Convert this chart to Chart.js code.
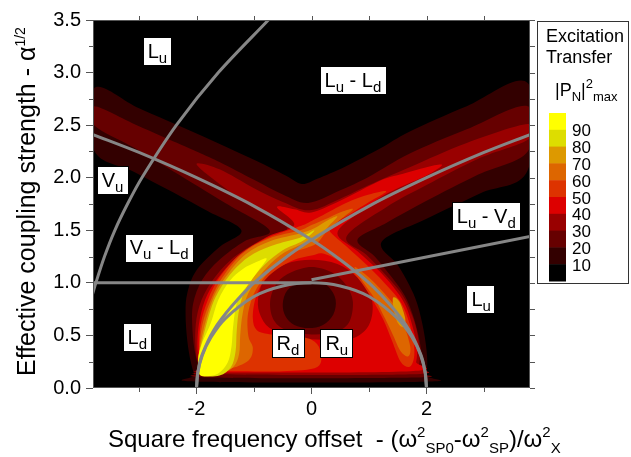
<!DOCTYPE html>
<html lang="en">
<head>
<meta charset="UTF-8" />
<title>Excitation transfer map</title>
<script src="https://cdn.jsdelivr.net/npm/chart.js"></script>
<style>
  html, body { margin: 0; padding: 0; background: #fff; }
</style>
</head>
<body>
<canvas id="map" width="631" height="457"></canvas>
<script>
const family = "'Liberation Sans', Arial, sans-serif";

// axes
const xTicks = [-2, 0, 2];
const xTickLabels = ['-2', '0', '2'];
const xMinor = [-3, -1, 1, 3];
const yTicks = [0, 0.5, 1, 1.5, 2, 2.5, 3, 3.5];
const yTickLabels = ['0.0', '0.5', '1.0', '1.5', '2.0', '2.5', '3.0', '3.5'];
const yMinor = [0.25, 0.75, 1.25, 1.75, 2.25, 2.75, 3.25];

// colour scale (|P_N|^2 max, %)
const legendLabels = ['90', '80', '70', '60', '50', '40', '30', '20', '10'];
const bandColors = ['#000000', '#330000', '#660000', '#990000', '#dd0000', '#dd3300', '#dd6600', '#dd9900', '#dddd00', '#ffff00'];

// contour outlines: cNN = region above NN %, hNN = hole below NN %
const c10 = [[-3.78,2.85],[-3.0,2.66],[-2.0,2.42],[-1.0,2.17],[-0.45,2.02],[-0.17,1.94],[0.1,1.99],[0.6,2.11],[1.2,2.28],[1.71,2.44],[2.7,2.68],[3.76,2.9],
  [3.76,2.07],[2.93,1.85],[2.0,1.61],[1.22,1.39],[1.5,1.17],[1.7,0.98],[1.84,0.8],[1.95,0.55],[2.01,0.3],[2.0,0.12],[1.95,0.06],
  [-1.95,0.06],[-2.03,0.12],[-2.1,0.25],[-2.16,0.45],[-2.19,0.7],[-2.16,0.9],[-2.0,1.12],[-1.6,1.34],[-1.22,1.5],
  [-1.8,1.68],[-2.4,1.86],[-3.1,2.06],[-3.78,2.26]];
const c20 = [[-3.78,2.68],[-3.0,2.49],[-2.0,2.25],[-1.6,2.15],[-1.0,1.98],[-0.5,1.84],[-0.06,1.76],[0.5,1.88],[1.0,2.01],[1.71,2.23],[2.7,2.46],[3.76,2.68],
  [3.76,2.25],[2.9,2.03],[2.0,1.78],[1.3,1.57],[0.8,1.41],[1.1,1.25],[1.4,1.05],[1.62,0.88],[1.76,0.7],[1.86,0.5],[1.92,0.3],[1.9,0.15],[1.8,0.1],
  [-1.8,0.1],[-1.93,0.16],[-2.02,0.32],[-2.07,0.55],[-2.06,0.8],[-1.9,1.03],[-1.6,1.22],[-1.15,1.4],[-0.73,1.5],
  [-1.5,1.76],[-2.4,2.06],[-3.1,2.29],[-3.78,2.5]];
const h20 = [[-0.5,0.8],[-0.42,0.93],[-0.2,1.0],[0.1,1.02],[0.3,0.96],[0.42,0.84],[0.38,0.7],[0.2,0.6],[-0.05,0.57],[-0.3,0.6],[-0.45,0.68]];
const c30 = [[-0.42,1.52],[-0.9,1.4],[-1.4,1.22],[-1.75,1.0],[-1.95,0.78],[-2.02,0.55],[-2.0,0.3],[-1.9,0.17],[-1.78,0.13],
  [1.75,0.13],[1.86,0.2],[1.88,0.35],[1.83,0.55],[1.72,0.73],[1.56,0.9],[1.3,1.07],[0.95,1.27],[0.61,1.44],
  [1.3,1.72],[2.0,1.93],[2.9,2.18],[3.76,2.36],[3.76,2.51],[2.7,2.33],[1.71,2.1],[1.0,1.93],[0.5,1.8],[-0.03,1.69],
  [-0.5,1.77],[-1.0,1.9],[-1.6,2.08],[-2.0,2.13],[-1.6,1.94],[-1.0,1.71]];
const h30 = [[-0.72,0.82],[-0.6,1.0],[-0.35,1.1],[0,1.15],[0.35,1.1],[0.6,0.98],[0.72,0.82],[0.65,0.62],[0.4,0.53],[0,0.51],[-0.4,0.54],[-0.65,0.64]];
const c40 = [[-0.3,1.55],[-0.8,1.43],[-1.3,1.24],[-1.65,1.03],[-1.85,0.84],[-1.96,0.6],[-1.98,0.35],[-1.9,0.19],[-1.75,0.15],
  [1.72,0.16],[1.82,0.25],[1.83,0.4],[1.76,0.58],[1.64,0.78],[1.48,0.92],[1.2,1.1],[0.8,1.3],[0.45,1.47],
  [0.8,1.66],[1.19,1.81],[1.5,1.9],[2.0,2.02],[2.27,2.12],[2.0,2.1],[1.54,2.03],[1.19,1.97],[0.5,1.78],[0.0,1.67],[-0.3,1.7],[-0.6,1.72]];
const h40 = [[-0.93,0.84],[-0.8,1.05],[-0.45,1.18],[0,1.22],[0.45,1.18],[0.8,1.05],[1.05,0.84],[1.0,0.6],[0.7,0.47],[0.2,0.46],[-0.3,0.48],[-0.7,0.56],[-0.88,0.68]];
const c50 = [[-1.85,0.17],[-1.95,0.35],[-1.93,0.6],[-1.8,0.84],[-1.6,1.05],[-1.25,1.27],[-0.8,1.42],[-0.3,1.52],[-0.1,1.56],
  [0.15,1.63],[0.6,1.76],[1.0,1.84],[1.3,1.87],[1.0,1.77],[0.6,1.63],[0.3,1.52],
  [0.6,1.35],[1.0,1.15],[1.35,0.95],[1.57,0.8],[1.7,0.62],[1.78,0.42],[1.78,0.28],[1.7,0.2],
  [1.55,0.25],[1.4,0.45],[1.25,0.65],[1.05,0.85],[0.8,1.05],[0.5,1.2],[0.2,1.28],[0,1.26],[-0.3,1.22],[-0.6,1.13],[-0.85,1.0],[-0.98,0.84],[-1.02,0.66],[-0.95,0.55],
  [-0.7,0.51],[-0.35,0.5],[0.0,0.46],[0.15,0.36],[0.1,0.2],[-0.5,0.16],[-1.2,0.16],[-1.6,0.16]];
const c60 = [[-1.9,0.16],[-1.95,0.35],[-1.9,0.6],[-1.75,0.84],[-1.55,1.05],[-1.2,1.28],[-0.75,1.42],[-0.2,1.5],[0.0,1.55],[0.3,1.62],[0.55,1.68],[0.72,1.7],
  [0.5,1.6],[0.25,1.48],[0.1,1.38],[-0.1,1.33],[-0.35,1.28],[-0.65,1.15],[-0.95,0.95],[-1.1,0.72],[-1.1,0.5],[-1.02,0.38],[-1.1,0.26],[-1.45,0.18]];
const c60b = [[0.75,1.15],[1.0,1.05],[1.3,0.88],[1.5,0.74],[1.64,0.55],[1.72,0.38],[1.68,0.3],[1.55,0.35],[1.42,0.5],[1.28,0.66],[1.1,0.85],[0.88,1.02]];
const c70 = [[-1.92,0.14],[-1.96,0.3],[-1.88,0.55],[-1.72,0.84],[-1.5,1.05],[-1.15,1.27],[-0.7,1.4],[-0.2,1.47],[0.05,1.52],[0.3,1.6],[0.45,1.63],
  [0.3,1.54],[0.1,1.42],[-0.2,1.36],[-0.55,1.26],[-0.85,1.1],[-1.1,0.9],[-1.2,0.7],[-1.24,0.5],[-1.26,0.32],[-1.36,0.2],[-1.6,0.14]];
const c70b = [[1.42,0.86],[1.53,0.82],[1.63,0.66],[1.6,0.58],[1.5,0.62],[1.43,0.75]];
const c80 = [[-1.93,0.13],[-1.97,0.28],[-1.9,0.45],[-1.75,0.75],[-1.58,0.95],[-1.3,1.15],[-1.0,1.28],[-0.6,1.37],[-0.2,1.43],[0.05,1.5],
  [-0.15,1.4],[-0.5,1.31],[-0.82,1.17],[-1.12,0.97],[-1.25,0.77],[-1.3,0.55],[-1.32,0.35],[-1.4,0.2],[-1.6,0.12]];
const c90 = [[-1.93,0.12],[-1.97,0.25],[-1.92,0.4],[-1.75,0.62],[-1.62,0.84],[-1.42,1.02],[-1.2,1.13],[-0.95,1.2],[-0.78,1.23],
  [-0.92,1.12],[-1.05,1.02],[-1.28,0.84],[-1.36,0.6],[-1.39,0.4],[-1.46,0.24],[-1.65,0.13]];

// grey boundary curves
const curveA = [[-3.8,2.41],[-3.0,2.24],[-2.0,2.0],[-1.0,1.73],[0,1.41],[0.5,1.22],[1.0,1.0],[1.4,0.77],[1.7,0.55],[1.9,0.32],[1.97,0.17],[2.0,0]];
const curveB = [[-2.0,0],[-1.97,0.17],[-1.9,0.32],[-1.7,0.55],[-1.4,0.77],[-1.0,1.0],[-0.5,1.22],[0,1.41],[1.0,1.73],[2.0,2.0],[3.0,2.24],[3.8,2.41]];
const arc = [[-2.0,0],[-1.98,0.14],[-1.9,0.31],[-1.75,0.48],[-1.5,0.66],[-1.0,0.87],[-0.5,0.97],[0,1.0],[0.5,0.97],[1.0,0.87],[1.5,0.66],[1.75,0.48],[1.9,0.31],[1.98,0.14],[2.0,0]];
const flatLine = [[-3.8,1.0],[0,1.0]];
const slantLine = [[0,1.03],[3.8,1.44]];
const leftCurve = [[-3.83,0.85],[-3.75,1.0],[-3.6,1.25],[-3.42,1.5],[-3.2,1.75],[-2.95,2.0],[-2.35,2.5],[-1.62,3.0],[-0.75,3.5]];

// region names and where they sit
const regionNames = ['L_u', 'L_u - L_d', 'V_u', 'V_u - L_d', 'L_u - V_d', 'L_d', 'R_d', 'R_u', 'L_u'];
const regionX = [-2.68, 0.72, -3.46, -2.65, 3.04, -3.03, -0.41, 0.44, 2.95];
const regionY = [3.20, 2.92, 1.97, 1.33, 1.63, 0.48, 0.42, 0.42, 0.84];

const regions = [
  [c10, 1], [c20, 2], [c30, 3], [c40, 4],
  [h40, 3], [h30, 2], [h20, 1],
  [c50, 5], [c60, 6], [c60b, 6], [c70, 7], [c70b, 7], [c80, 8], [c90, 9]
];

const toXY = arr => arr.map(([x, y]) => ({ x, y }));

const datasets = regions.map(([pts, band]) => ({
  data: toXY(pts), band, showLine: false, pointRadius: 0
}));
[curveA, curveB, arc, leftCurve].forEach(c => datasets.push({
  data: toXY(c), showLine: true, borderColor: '#868686', borderWidth: 3, pointRadius: 0, tension: 0.3
}));
[flatLine, slantLine].forEach(c => datasets.push({
  data: toXY(c), showLine: true, borderColor: '#868686', borderWidth: 3, pointRadius: 0, tension: 0
}));

function closedCurve(ctx, p) {
  const n = p.length;
  ctx.moveTo(p[0].x, p[0].y);
  for (let i = 0; i < n; i++) {
    const p0 = p[(i - 1 + n) % n], p1 = p[i], p2 = p[(i + 1) % n], p3 = p[(i + 2) % n];
    ctx.bezierCurveTo(p1.x + (p2.x - p0.x) / 6, p1.y + (p2.y - p0.y) / 6,
      p2.x - (p3.x - p1.x) / 6, p2.y - (p3.y - p1.y) / 6, p2.x, p2.y);
  }
  ctx.closePath();
}

// text with ^sup and _sub pieces: parts = [[text, mode], ...]
function richText(ctx, parts, x, y, size, subSize, measureOnly) {
  let cx = x;
  for (const [t, m] of parts) {
    const fs = m ? subSize : size;
    ctx.font = fs + 'px ' + family;
    const dy = m === '^' ? -size * 0.42 : m === '_' ? size * 0.25 : 0;
    if (!measureOnly) ctx.fillText(t, cx, y + dy);
    cx += ctx.measureText(t).width;
  }
  return cx - x;
}

function parseName(s) {
  const parts = [];
  let buf = '';
  for (let i = 0; i < s.length; i++) {
    if (s[i] === '_') {
      if (buf) parts.push([buf, '']);
      buf = '';
      parts.push([s[i + 1], '_']);
      i++;
    } else buf += s[i];
  }
  if (buf) parts.push([buf, '']);
  return parts;
}

const mapPlugin = {
  id: 'map',
  beforeDatasetsDraw(chart) {
    const { ctx, chartArea: a } = chart;
    ctx.save();
    ctx.beginPath();
    ctx.rect(a.left, a.top, a.width, a.height);
    ctx.clip();
    ctx.fillStyle = bandColors[0];
    ctx.fillRect(a.left, a.top, a.width, a.height);
    chart.data.datasets.forEach((ds, i) => {
      if (ds.band === undefined) return;
      ctx.beginPath();
      closedCurve(ctx, chart.getDatasetMeta(i).data);
      ctx.fillStyle = bandColors[ds.band];
      ctx.fill();
    });
    ctx.restore();
  },
  afterDatasetsDraw(chart) {
    const { ctx, scales: { x, y } } = chart;
    ctx.save();
    ctx.textBaseline = 'alphabetic';
    regionNames.forEach((name, i) => {
      const parts = parseName(name);
      const w = richText(ctx, parts, 0, 0, 20, 15, true);
      const px = x.getPixelForValue(regionX[i]);
      const py = y.getPixelForValue(regionY[i]);
      const bw = w + 10, bh = 29;
      ctx.fillStyle = '#fff';
      ctx.fillRect(Math.round(px - bw / 2), Math.round(py - bh / 2), Math.round(bw), bh);
      ctx.strokeStyle = '#000';
      ctx.lineWidth = 1;
      ctx.strokeRect(Math.round(px - bw / 2) + 0.5, Math.round(py - bh / 2) + 0.5, Math.round(bw) - 1, bh - 1);
      ctx.fillStyle = '#000';
      richText(ctx, parts, px - w / 2, py + 6, 20, 15);
    });
    ctx.restore();
  },
  afterDraw(chart) {
    const { ctx, chartArea: a, scales: { x, y } } = chart;
    ctx.save();
    // frame and small ticks
    ctx.strokeStyle = '#555';
    ctx.lineWidth = 1;
    ctx.strokeRect(a.left + 0.5, a.top + 0.5, a.width - 1, a.height - 1);
    ctx.beginPath();
    xMinor.forEach(v => {
      const px = Math.round(x.getPixelForValue(v)) + 0.5;
      ctx.moveTo(px, a.bottom); ctx.lineTo(px, a.bottom + 4);
    });
    xTicks.concat(xMinor).forEach(v => {
      const px = Math.round(x.getPixelForValue(v)) + 0.5;
      ctx.moveTo(px, a.top); ctx.lineTo(px, a.top - 4);
    });
    yMinor.forEach(v => {
      const py = Math.round(y.getPixelForValue(v)) + 0.5;
      ctx.moveTo(a.left, py); ctx.lineTo(a.left - 4, py);
    });
    yTicks.concat(yMinor).forEach(v => {
      const py = Math.round(y.getPixelForValue(v)) + 0.5;
      ctx.moveTo(a.right, py); ctx.lineTo(a.right + 5, py);
    });
    ctx.stroke();

    // axis titles
    ctx.fillStyle = '#000';
    ctx.textBaseline = 'alphabetic';
    ctx.textAlign = 'left';
    richText(ctx, [['Square frequency offset  - (\u03c9', ''], ['2', '^'], ['SP0', '_'], ['-\u03c9', ''], ['2', '^'], ['SP', '_'],
      [')/\u03c9', ''], ['2', '^'], ['X', '_']], 108, 447, 24, 15);
    ctx.save();
    ctx.translate(35, 376);
    ctx.rotate(-Math.PI / 2);
    richText(ctx, [['Effective coupling strength - \u03b1', ''], ['1/2', '^']], 0, 0, 25, 14);
    ctx.restore();

    // colour legend
    const lx = a.right + 7, ly = a.top + 1;
    ctx.strokeStyle = '#333';
    ctx.strokeRect(lx + 0.5, ly + 0.5, 91, 262);
    ctx.font = '18px ' + family;
    ctx.fillText('Excitation', lx + 9, ly + 21);
    ctx.fillText('Transfer', lx + 9, ly + 42);
    richText(ctx, [['|P', ''], ['N', '_'], ['|', ''], ['2', '^'], ['max', '_']], lx + 18, ly + 75, 18, 13);
    const sw = 16.8, sy = ly + 92;
    for (let i = 0; i < bandColors.length; i++) {
      ctx.fillStyle = bandColors[bandColors.length - 1 - i];
      ctx.fillRect(lx + 12, sy + i * sw, 17, sw + 0.5);
    }
    ctx.fillStyle = '#000';
    ctx.font = '17px ' + family;
    ctx.textBaseline = 'middle';
    legendLabels.forEach((t, i) => ctx.fillText(t, lx + 35, sy + (i + 1) * sw + 2));
    ctx.restore();
  }
};

new Chart(document.getElementById('map'), {
  type: 'scatter',
  data: { datasets },
  plugins: [mapPlugin],
  options: {
    responsive: false,
    animation: false,
    events: [],
    layout: { padding: { left: 0, right: 101, top: 20, bottom: 0 } },
    plugins: { legend: { display: false }, tooltip: { enabled: false } },
    scales: {
      x: {
        type: 'linear', min: -3.8, max: 3.8,
        afterBuildTicks: s => { s.ticks = xTicks.map(v => ({ value: v })); },
        afterFit: s => { s.height = 69; },
        ticks: { callback: (v, i) => xTickLabels[i], color: '#000', font: { size: 20, family }, padding: 3, maxRotation: 0, autoSkip: false },
        grid: { drawOnChartArea: false, tickLength: 6, tickColor: '#555' },
        border: { display: false }
      },
      y: {
        type: 'linear', min: 0, max: 3.5,
        afterBuildTicks: s => { s.ticks = yTicks.map(v => ({ value: v })); },
        afterFit: s => { s.width = 93; },
        ticks: { callback: (v, i) => yTickLabels[i], color: '#000', font: { size: 20, family }, padding: 5, autoSkip: false },
        grid: { drawOnChartArea: false, tickLength: 7, tickColor: '#555' },
        border: { display: false }
      }
    }
  }
});
</script>
</body>
</html>
